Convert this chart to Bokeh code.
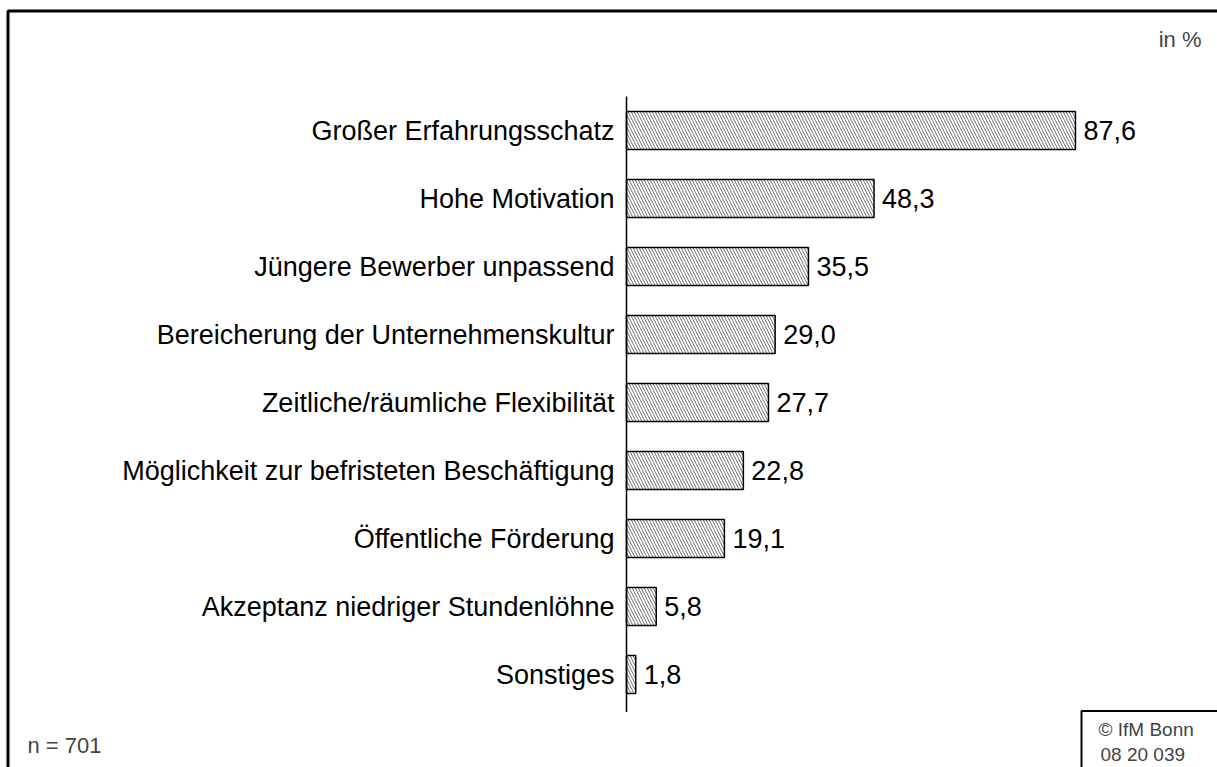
from bokeh.plotting import figure
from bokeh.models import ColumnDataSource, Range1d, Label, BoxAnnotation
from bokeh.core.properties import value
from bokeh.embed import file_html
from bokeh.resources import INLINE

categories = [
    "Großer Erfahrungsschatz",
    "Hohe Motivation",
    "Jüngere Bewerber unpassend",
    "Bereicherung der Unternehmenskultur",
    "Zeitliche/räumliche Flexibilität",
    "Möglichkeit zur befristeten Beschäftigung",
    "Öffentliche Förderung",
    "Akzeptanz niedriger Stundenlöhne",
    "Sonstiges",
]
values = [87.6, 48.3, 35.5, 29.0, 27.7, 22.8, 19.1, 5.8, 1.8]
unit_label = "in %"
sample_note = "n = 701"
source_note = ["© IfM Bonn", "08  20  039"]

FONT = "Liberation Sans"
W, H = 1217, 767
PX_PER_UNIT = 5.125      # px per percent
ZERO_PX = 626            # zero line position from canvas left
ROW_PX = 68              # px per category row
FIRST_ROW_PX = 130       # centre of first row from canvas top

x_start = -ZERO_PX / PX_PER_UNIT
x_end = (W - ZERO_PX) / PX_PER_UNIT
y_top = -FIRST_ROW_PX / ROW_PX
y_bottom = (H - FIRST_ROW_PX) / ROW_PX

def sx(px):
    return (px - ZERO_PX) / PX_PER_UNIT

def sy(py):
    return (py - FIRST_ROW_PX) / ROW_PX

n = len(categories)
pos = list(range(n))
src = ColumnDataSource(dict(
    cat=categories,
    val=values,
    pos=pos,
    zero=[0] * n,
    lab=[f"{v:.1f}".replace(".", ",") for v in values],
))

p = figure(width=W, height=H, output_backend="svg", toolbar_location=None,
           x_range=Range1d(x_start, x_end), y_range=Range1d(y_bottom, y_top),
           min_border=0, x_axis_type=None, y_axis_type=None)
p.grid.visible = False
p.outline_line_color = None
p.background_fill_color = "white"
p.border_fill_color = "white"

p.hbar(y="pos", left="zero", right="val", height=0.56, source=src,
       fill_color="white", line_color="black", line_width=1.5,
       hatch_pattern="\\", hatch_color="#777777", hatch_scale=6, hatch_weight=1)

# vertical zero axis line
p.segment(x0=[0], x1=[0], y0=[-0.5], y1=[n - 0.45], line_color="black", line_width=1.5)

p.text(x="zero", y="pos", text="cat", source=src, x_offset=-12,
       text_align="right", text_baseline="middle",
       text_font=value(FONT), text_font_size="27px", text_color="black")
p.text(x="val", y="pos", text="lab", source=src, x_offset=8,
       text_align="left", text_baseline="middle",
       text_font=value(FONT), text_font_size="27px", text_color="black")

# outer frame (top and left edges visible)
p.add_layout(BoxAnnotation(left=sx(7.5), top=sy(10.5), right=sx(1400), bottom=sy(1000),
                           fill_color=None, fill_alpha=0, line_color="black",
                           line_alpha=1.0, line_width=3))
# source box
p.add_layout(BoxAnnotation(left=sx(1081), top=sy(710.5), right=sx(1400), bottom=sy(1000),
                           fill_color=None, fill_alpha=0, line_color="black",
                           line_alpha=1.0, line_width=2))

p.add_layout(Label(x=sx(1201), y=sy(39), text=unit_label, text_align="right",
                   text_baseline="middle", text_font=FONT, text_font_size="22px"))
p.add_layout(Label(x=sx(27), y=sy(745), text=sample_note, text_align="left",
                   text_baseline="middle", text_font=FONT, text_font_size="22px"))
p.add_layout(Label(x=sx(1098), y=sy(729), text=source_note[0], text_align="left",
                   text_baseline="middle", text_font=FONT, text_font_size="19px"))
p.add_layout(Label(x=sx(1100), y=sy(754), text=source_note[1], text_align="left",
                   text_baseline="middle", text_font=FONT, text_font_size="19px"))

open("out.html", "w").write(file_html(p, INLINE))
